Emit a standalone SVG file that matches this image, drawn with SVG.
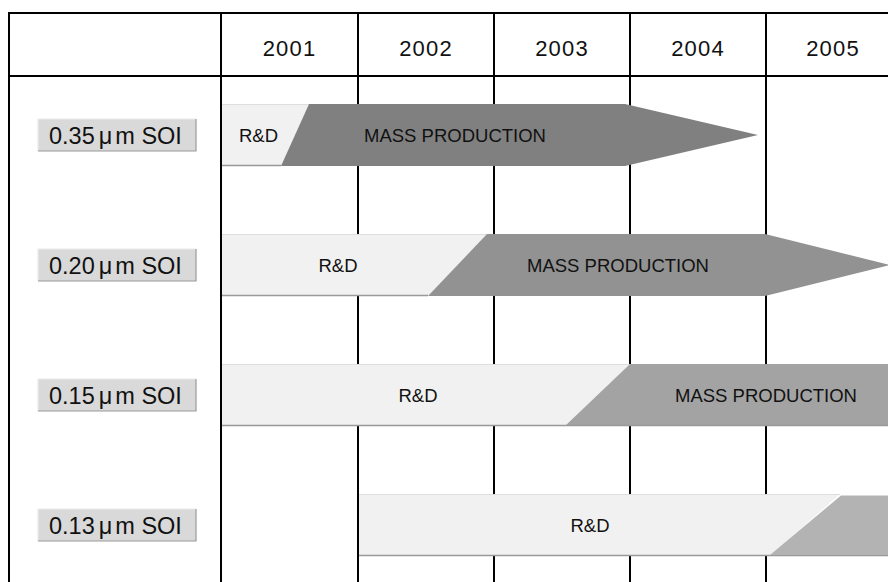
<svg xmlns="http://www.w3.org/2000/svg" width="888" height="582" viewBox="0 0 888 582">
<style>
  .grid { stroke: #000; stroke-width: 2; fill: none; }
  .yr { font-family: "Liberation Sans", Arial, sans-serif; font-size: 22px; letter-spacing: 1.2px; fill: #111; text-anchor: middle; }
  .lbl { font-family: "Liberation Sans", Arial, sans-serif; font-size: 23.5px; fill: #111; }
  .lblbox { fill: #d9d9d9; }
  .lbledge { stroke: #9a9a9a; stroke-width: 1.2; fill: none; }
  .lbltop { stroke: #ececec; stroke-width: 1.2; fill: none; }
  .bt { font-family: "Liberation Sans", Arial, sans-serif; font-size: 18.5px; fill: #111; text-anchor: middle; }
  .rd { fill: #f1f1f1; }
  .topedge { stroke: #dedede; stroke-width: 1; fill: none; }
  .botedge { stroke: #999; stroke-width: 1.5; fill: none; }
</style>
<rect x="0" y="0" width="888" height="582" fill="#fff"/>
<g id="grid">
  <line class="grid" x1="9" y1="13" x2="888" y2="13"/>
  <line class="grid" x1="9" y1="76" x2="888" y2="76"/>
  <line class="grid" x1="9" y1="12" x2="9" y2="582"/>
  <line class="grid" x1="221" y1="12" x2="221" y2="582"/>
  <line class="grid" x1="358" y1="12" x2="358" y2="582"/>
  <line class="grid" x1="494" y1="12" x2="494" y2="582"/>
  <line class="grid" x1="630" y1="12" x2="630" y2="582"/>
  <line class="grid" x1="766" y1="12" x2="766" y2="582"/>
</g>
<g id="header">
  <text class="yr" x="289.5" y="55.5">2001</text>
  <text class="yr" x="426" y="55.5">2002</text>
  <text class="yr" x="562" y="55.5">2003</text>
  <text class="yr" x="698" y="55.5">2004</text>
  <text class="yr" x="833" y="55.5">2005</text>
</g>
<g id="label-035">
  <rect class="lblbox" x="38" y="119" width="158" height="32"/>
  <polyline class="lbltop" points="38,151 38,119 196,119"/>
  <polyline class="lbledge" points="38,151 196,151 196,119"/>
  <text class="lbl" x="49" y="143.5">0.35<tspan dx="4">μ</tspan><tspan dx="3">m SOI</tspan></text>
</g>
<g id="label-020">
  <rect class="lblbox" x="38" y="249" width="158" height="32"/>
  <polyline class="lbltop" points="38,281 38,249 196,249"/>
  <polyline class="lbledge" points="38,281 196,281 196,249"/>
  <text class="lbl" x="49" y="273.5">0.20<tspan dx="4">μ</tspan><tspan dx="3">m SOI</tspan></text>
</g>
<g id="label-015">
  <rect class="lblbox" x="38" y="379" width="158" height="32"/>
  <polyline class="lbltop" points="38,411 38,379 196,379"/>
  <polyline class="lbledge" points="38,411 196,411 196,379"/>
  <text class="lbl" x="49" y="403.5">0.15<tspan dx="4">μ</tspan><tspan dx="3">m SOI</tspan></text>
</g>
<g id="label-013">
  <rect class="lblbox" x="38" y="509" width="158" height="32"/>
  <polyline class="lbltop" points="38,541 38,509 196,509"/>
  <polyline class="lbledge" points="38,541 196,541 196,509"/>
  <text class="lbl" x="49" y="533.5">0.13<tspan dx="4">μ</tspan><tspan dx="3">m SOI</tspan></text>
</g>
<g id="bar-035">
  <polygon class="rd" points="222,104 309,104 281,166 222,166"/>
  <line class="topedge" x1="222" y1="104.5" x2="309" y2="104.5"/>
  <line class="botedge" x1="222" y1="165.5" x2="281" y2="165.5"/>
  <polygon fill="#808080" points="309,104 625,104 758,135 625,166 281,166"/>
  <text class="bt" x="258.5" y="142">R&amp;D</text>
  <text class="bt" x="455" y="142">MASS PRODUCTION</text>
</g>
<g id="bar-020">
  <polygon class="rd" points="222,234 487,234 428,296 222,296"/>
  <line class="topedge" x1="222" y1="234.5" x2="487" y2="234.5"/>
  <line class="botedge" x1="222" y1="295.5" x2="428" y2="295.5"/>
  <polygon fill="#929292" points="487,234 765,234 890,265 765,296 428,296"/>
  <text class="bt" x="338" y="272">R&amp;D</text>
  <text class="bt" x="618" y="272">MASS PRODUCTION</text>
</g>
<g id="bar-015">
  <polygon class="rd" points="222,364 630,364 565,426 222,426"/>
  <line class="topedge" x1="222" y1="364.5" x2="630" y2="364.5"/>
  <line class="botedge" x1="222" y1="425.5" x2="565" y2="425.5"/>
  <polygon fill="#a3a3a3" points="630,364 888,364 888,426 565,426"/>
  <line class="botedge" x1="565" y1="425.5" x2="888" y2="425.5"/>
  <text class="bt" x="418" y="402">R&amp;D</text>
  <text class="bt" x="766" y="402">MASS PRODUCTION</text>
</g>
<g id="bar-013">
  <polygon class="rd" points="359,494 840,494 770,556 359,556"/>
  <line class="topedge" x1="359" y1="494.5" x2="840" y2="494.5"/>
  <line class="botedge" x1="359" y1="555.5" x2="888" y2="555.5"/>
  <polygon fill="#b3b3b3" points="841,495.5 888,495.5 888,555 770,555"/>
  <text class="bt" x="590" y="532">R&amp;D</text>
</g>
<g id="connectors"></g>
</svg>
